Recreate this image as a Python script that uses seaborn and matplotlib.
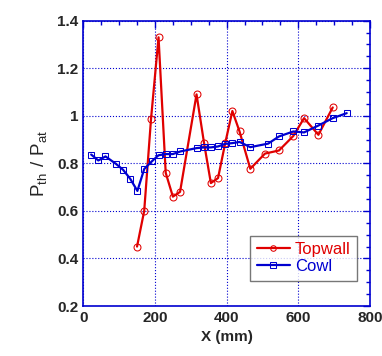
import matplotlib
matplotlib.use('Agg')
import matplotlib.pyplot as plt
import matplotlib.ticker as mticker
import seaborn as sns

# Topwall pressure ratio
top_x = [150, 170, 189, 210, 230, 250, 270, 316, 337, 356, 376, 396, 416, 436, 466, 507, 546, 586, 616, 656, 696]
top_p = [0.45, 0.60, 0.986, 1.33, 0.76, 0.66, 0.68, 1.09, 0.885, 0.717, 0.738, 0.885, 1.02, 0.934, 0.777, 0.841, 0.854, 0.915, 0.99, 0.92, 1.035]

# Cowl pressure ratio
cowl_x = [22, 42, 62, 91, 111, 131, 151, 170, 191, 210, 231, 250, 271, 316, 337, 356, 376, 396, 416, 436, 466, 516, 546, 586, 616, 656, 696, 735]
cowl_p = [0.837, 0.812, 0.829, 0.798, 0.773, 0.735, 0.684, 0.776, 0.808, 0.834, 0.839, 0.839, 0.85, 0.864, 0.867, 0.867, 0.871, 0.882, 0.885, 0.89, 0.868, 0.883, 0.913, 0.934, 0.93, 0.959, 0.99, 1.011]

sns.set_style('white')
plt.rcParams['font.family'] = ['Liberation Sans', 'DejaVu Sans']

fig = plt.figure(figsize=(3.82, 3.56), dpi=100)
ax = fig.add_axes([0.218, 0.1404, 0.7506, 0.8016])

sns.lineplot(x=top_x, y=top_p, ax=ax, color='#e00000', marker='o', markersize=5,
             markerfacecolor='none', markeredgecolor='#e00000', linewidth=1.6,
             sort=False, label='Topwall')
sns.lineplot(x=cowl_x, y=cowl_p, ax=ax, color='#0000d0', marker='s', markersize=5,
             markerfacecolor='none', markeredgecolor='#0000d0', linewidth=1.6,
             sort=False, label='Cowl')

ax.set_xlim(0, 800)
ax.set_ylim(0.2, 1.4)
ax.xaxis.set_major_locator(mticker.MultipleLocator(200))
ax.xaxis.set_minor_locator(mticker.MultipleLocator(50))
ax.yaxis.set_major_locator(mticker.MultipleLocator(0.2))
ax.yaxis.set_minor_locator(mticker.MultipleLocator(0.05))
ax.yaxis.set_major_formatter(mticker.FuncFormatter(lambda v, _: f'{v:g}'))

ax.grid(True, which='major', color='#0000d0', linestyle=':', linewidth=0.8)
for s in ax.spines.values():
    s.set_color('#0000d0')
    s.set_linewidth(1.2)
ax.tick_params(which='both', direction='in', top=True, right=True, color='#0000d0')
ax.tick_params(which='major', length=5, width=1)
ax.tick_params(which='minor', length=3, width=1)
for lab in ax.get_xticklabels() + ax.get_yticklabels():
    lab.set_fontweight('bold')
    lab.set_fontsize(11)

ax.set_xlabel('X (mm)', fontsize=11, fontweight='bold')
ax.set_ylabel(r'$\mathregular{P_{th}\ /\ P_{at}}$', fontsize=13.5, labelpad=6)

leg = ax.legend(loc='lower right', bbox_to_anchor=(0.985, 0.06), fontsize=12,
                frameon=True, fancybox=False, edgecolor='#555555',
                handlelength=2.0, borderpad=0.4, labelspacing=0.1,
                handletextpad=0.3, markerscale=0.8)
leg.get_frame().set_linewidth(1.0)
for t, c in zip(leg.get_texts(), ['#e00000', '#0000d0']):
    t.set_color(c)

fig.savefig('out.png', dpi=100)
